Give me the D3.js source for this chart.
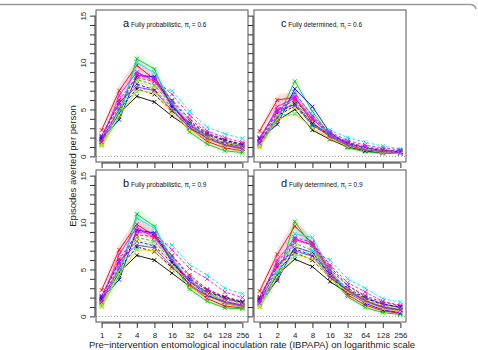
<!DOCTYPE html>
<html>
<head>
<meta charset="utf-8">
<script src="https://cdn.jsdelivr.net/npm/d3@7"></script>
<style>
body{margin:0;background:#fff;}
svg{display:block;font-family:"Liberation Sans",Arial,sans-serif;}
</style>
</head>
<body>
<div id="chart"></div>
<script>
const width=478;
const height=350;

// x positions: EIR on log2 scale
const eir=[1,2,4,8,16,32,64,128,256];
const yTicks=[0,5,10,15];

// series styles: 8 colours, each solid then dashed
const colors=["#000000","#ff0000","#00cd00","#0000ff","#00e5ee","#ff00ff","#e6d800","#8a2be2"];

// panel a: fully probabilistic, pi=0.6
const panelA=[
  [1.6,4.6,6.4,5.8,4.3,3.0,2.0,1.4,1.0],
  [1.8,5.0,7.2,6.6,4.8,3.3,2.3,1.7,1.3],
  [2.8,7.0,9.7,8.2,5.6,3.0,1.6,0.9,0.6],
  [2.1,6.0,8.4,8.0,6.0,4.0,2.5,1.8,1.3],
  [1.2,4.2,10.4,9.3,5.2,2.6,1.3,0.6,0.4],
  [1.4,5.0,8.2,7.6,5.4,3.5,2.2,1.5,1.1],
  [1.9,3.9,8.6,8.5,5.4,3.3,2.0,1.2,0.8],
  [2.0,5.7,7.7,7.1,5.2,3.6,2.4,1.7,1.2],
  [1.3,4.8,10.0,8.9,5.8,3.4,2.0,1.2,0.8],
  [1.5,5.3,6.9,7.5,7.0,4.8,3.1,2.4,1.9],
  [1.7,6.5,9.0,8.0,5.5,3.4,2.1,1.3,0.9],
  [1.6,5.5,8.6,8.3,6.6,4.4,2.7,2.0,1.5],
  [1.1,4.4,7.0,6.8,4.6,2.9,1.8,1.1,0.7],
  [1.3,5.2,7.9,7.4,5.0,3.2,2.0,1.4,1.0],
  [2.2,5.8,7.4,7.0,4.9,3.1,1.9,1.2,0.8],
  [1.5,5.1,8.8,8.4,5.9,3.8,2.4,1.6,1.1]
];
// panel b: fully probabilistic, pi=0.9
const panelB=[
  [1.6,4.7,6.5,6.0,4.6,3.2,2.2,1.6,1.2],
  [1.8,5.1,7.4,6.9,5.2,3.6,2.6,2.0,1.5],
  [2.8,7.1,9.8,8.6,6.0,3.3,1.9,1.1,0.9],
  [2.1,6.1,8.7,8.5,6.5,4.4,2.9,2.1,1.6],
  [1.1,4.3,10.9,9.6,5.8,2.9,1.6,0.9,0.8],
  [1.3,5.1,8.4,8.0,5.9,3.9,2.6,1.8,1.4],
  [1.9,3.9,9.2,8.9,5.8,3.7,2.3,1.4,1.0],
  [2.0,5.8,8.0,7.5,5.7,4.0,2.8,2.0,1.5],
  [1.3,4.9,10.5,9.4,6.2,3.8,2.4,1.5,1.1],
  [1.5,5.4,7.2,8.0,7.6,5.5,4.4,3.0,2.4],
  [1.7,6.6,9.5,8.4,6.0,3.8,2.5,1.6,1.2],
  [1.6,5.6,9.0,8.8,7.1,5.1,4.0,2.6,2.0],
  [1.0,4.5,7.1,7.0,5.0,3.2,2.1,1.4,1.0],
  [1.3,5.3,8.1,7.8,5.5,3.6,2.4,1.7,1.3],
  [2.2,5.9,7.6,7.3,5.3,3.4,2.2,1.5,1.1],
  [1.5,5.2,9.1,8.8,6.4,4.2,2.8,1.9,1.4]
];
// panel c: fully determined, pi=0.6
const panelC=[
  [1.3,3.8,5.0,2.8,1.8,1.0,0.6,0.4,0.3],
  [1.5,4.3,5.4,3.3,2.2,1.3,0.8,0.6,0.5],
  [2.7,6.0,6.3,3.6,2.1,1.1,0.6,0.4,0.4],
  [2.0,5.0,6.0,3.9,2.5,1.5,1.0,0.7,0.5],
  [1.0,4.0,8.0,4.8,2.2,0.9,0.5,0.3,0.3],
  [1.2,4.5,5.8,3.6,2.3,1.4,0.9,0.6,0.5],
  [1.8,3.4,7.2,5.3,2.5,1.3,0.6,0.4,0.3],
  [1.9,4.6,5.6,3.5,2.3,1.4,0.9,0.6,0.5],
  [1.1,4.2,6.6,4.4,2.4,1.2,0.7,0.5,0.4],
  [1.3,4.4,4.5,3.2,2.8,2.0,1.5,1.1,0.8],
  [1.6,5.3,6.2,4.0,2.3,1.3,0.8,0.5,0.4],
  [1.4,4.8,6.4,4.1,2.6,1.7,1.2,0.9,0.7],
  [1.0,3.9,4.6,3.0,1.9,1.1,0.7,0.4,0.3],
  [1.2,4.4,5.2,3.4,2.1,1.2,0.8,0.5,0.4],
  [2.0,4.9,5.5,3.4,2.1,1.2,0.7,0.5,0.4],
  [1.4,4.1,6.8,4.3,2.4,1.5,1.0,0.7,0.6]
];
// panel d: fully determined, pi=0.9
const panelD=[
  [1.5,4.4,6.1,5.3,3.7,2.5,1.6,1.0,0.7],
  [1.7,4.8,6.8,6.0,4.1,2.8,1.9,1.3,1.0],
  [2.7,6.6,9.6,7.8,4.8,2.3,1.2,0.6,0.3],
  [2.0,5.7,8.2,7.6,5.3,3.3,2.2,1.5,1.1],
  [1.0,4.0,10.1,7.4,4.2,2.1,0.95,0.4,0.2],
  [1.2,4.8,7.8,7.0,4.6,2.9,1.8,1.2,0.9],
  [1.8,3.8,7.4,6.8,4.4,2.7,1.4,0.7,0.4],
  [1.9,5.3,7.2,6.5,4.5,3.0,2.0,1.3,1.0],
  [1.2,4.6,8.8,8.4,4.9,2.8,1.6,0.9,0.5],
  [1.4,5.0,6.4,7.0,6.0,4.0,3.0,1.9,1.5],
  [1.6,6.0,8.3,7.6,4.6,2.7,1.6,0.9,0.6],
  [1.5,5.2,8.0,7.8,5.5,3.6,2.6,1.6,1.2],
  [1.0,4.2,6.6,6.1,4.0,2.6,1.5,0.8,0.5],
  [1.2,4.9,7.4,6.7,4.3,2.9,1.8,1.1,0.8],
  [2.1,5.5,7.0,6.4,4.2,2.8,1.7,1.0,0.7],
  [1.4,3.9,8.4,7.9,5.0,3.3,2.1,1.3,0.9]
];
// half width of the uncertainty bands
const bandA=[0.3,0.6,0.7,0.6,0.4,0.3,0.2,0.2,0.2];
const bandB=[0.3,0.6,0.7,0.6,0.4,0.3,0.2,0.2,0.2];
const bandC=[0.3,0.6,0.6,0.4,0.3,0.2,0.2,0.1,0.1];
const bandD=[0.3,0.6,0.7,0.5,0.4,0.3,0.2,0.2,0.1];

const panels=[
  {id:"a",text:" Fully probabilistic, π",pi:"0.6",data:panelA,band:bandA,x0:96,y0:10,yLab:true,xLab:false},
  {id:"c",text:" Fully determined, π",pi:"0.6",data:panelC,band:bandC,x0:254,y0:10,yLab:false,xLab:false},
  {id:"b",text:" Fully probabilistic, π",pi:"0.9",data:panelB,band:bandB,x0:96,y0:170,yLab:true,xLab:true},
  {id:"d",text:" Fully determined, π",pi:"0.9",data:panelD,band:bandD,x0:254,y0:170,yLab:false,xLab:true}
];
const pw=152, ph=152;

const svg=d3.select("#chart").append("svg")
  .attr("width",width).attr("height",height);

// top frame of the figure box
svg.append("path")
  .attr("d","M0,4.5 H470 Q475,4.5 476,9")
  .attr("fill","none").attr("stroke","#9a9a9a").attr("stroke-width",1.5);

panels.forEach(p=>{
  const g=svg.append("g").attr("transform",`translate(${p.x0},${p.y0})`);
  const x=d3.scaleLinear().domain([-0.32,8.32]).range([0,pw]);
  const y=d3.scaleLinear().domain([-0.6,15.6]).range([ph,0]);
  const lx=(d,i)=>x(Math.log2(eir[i]));

  //bands round some of the solid series
  const area=d3.area().x((d,i)=>lx(d,i))
    .y0((d,i)=>y(d-p.band[i])).y1((d,i)=>y(d+p.band[i]));
  p.data.forEach((s,k)=>{
    const ci=Math.floor(k/2);
    if(k%2===1) return;
    if(![1,2,4,5,6].includes(ci)) return;
    g.append("path").attr("d",area(s))
      .attr("fill",colors[ci]).attr("opacity",ci===1?0.13:0.07);
  });

  // zero line
  g.append("line").attr("x1",0).attr("x2",pw).attr("y1",y(0)).attr("y2",y(0))
    .attr("stroke","#888").attr("stroke-dasharray","1,2").attr("stroke-width",0.8);

  const line=d3.line().x((d,i)=>lx(d,i)).y(d=>y(d));
  p.data.forEach((s,k)=>{
    const ci=Math.floor(k/2);
    g.append("path").attr("d",line(s)).attr("fill","none")
      .attr("stroke",colors[ci]).attr("stroke-width",0.9)
      .attr("stroke-dasharray",k%2?"3,2":null);
    g.selectAll(null).data(s).enter().append("path")
      .attr("d",(d,i)=>{const cx=lx(d,i),cy=y(d),r=2;
        return `M${cx-r},${cy-r}L${cx+r},${cy+r}M${cx-r},${cy+r}L${cx+r},${cy-r}`;})
      .attr("stroke",colors[ci]).attr("stroke-width",0.9);
  });

  // box
  g.append("rect").attr("width",pw).attr("height",ph)
    .attr("fill","none").attr("stroke","#555").attr("stroke-width",1);

  // axes
  const yAxis=d3.axisLeft(y).tickValues(d3.range(0,16)).tickSize(5)
    .tickFormat(d=>p.yLab&&yTicks.includes(d)?d:"");
  const ya=g.append("g").attr("transform","translate(-1,0)").call(yAxis);
  ya.select(".domain").attr("d",`M0,${y(0)}V${y(15)}`).attr("stroke","#333").attr("fill","none");
  ya.selectAll("line").attr("stroke","#333");
  ya.selectAll(".tick text").attr("font-size",8).attr("fill","#222")
    .attr("x",0).attr("y",0).attr("dy",0).attr("text-anchor","middle")
    .attr("transform","translate(-9,0) rotate(-90)");

  const xAxis=d3.axisBottom(x).tickValues(d3.range(0,9)).tickSize(5)
    .tickFormat(d=>p.xLab?eir[d]:"");
  const xa=g.append("g").attr("transform",`translate(0,${ph+1})`).call(xAxis);
  xa.select(".domain").attr("d",`M${x(0)},0H${x(8)}`).attr("stroke","#333");
  xa.selectAll("line").attr("stroke","#333");
  xa.selectAll("text").attr("font-size",8).attr("fill","#222").attr("y",9);

  // panel title
  const t=g.append("text").attr("x",27).attr("y",17).attr("fill","#111");
  t.append("tspan").attr("font-size",11).text(p.id);
  t.append("tspan").attr("font-size",6.5).text(p.text);
  t.append("tspan").attr("font-size",5).attr("dy",1.5).text("i");
  t.append("tspan").attr("font-size",6.5).attr("dy",-1.5).text(" = "+p.pi);
});

svg.append("text").attr("x",252).attr("y",348).attr("text-anchor","middle")
  .attr("font-size",9.5).attr("fill","#222")
  .text("Pre\u2212intervention entomological inoculation rate (IBPAPA) on logarithmic scale");
svg.append("text").attr("transform","translate(76,166) rotate(-90)")
  .attr("text-anchor","middle").attr("font-size",9.5).attr("fill","#222")
  .text("Episodes averted per person");
</script>
</body>
</html>
